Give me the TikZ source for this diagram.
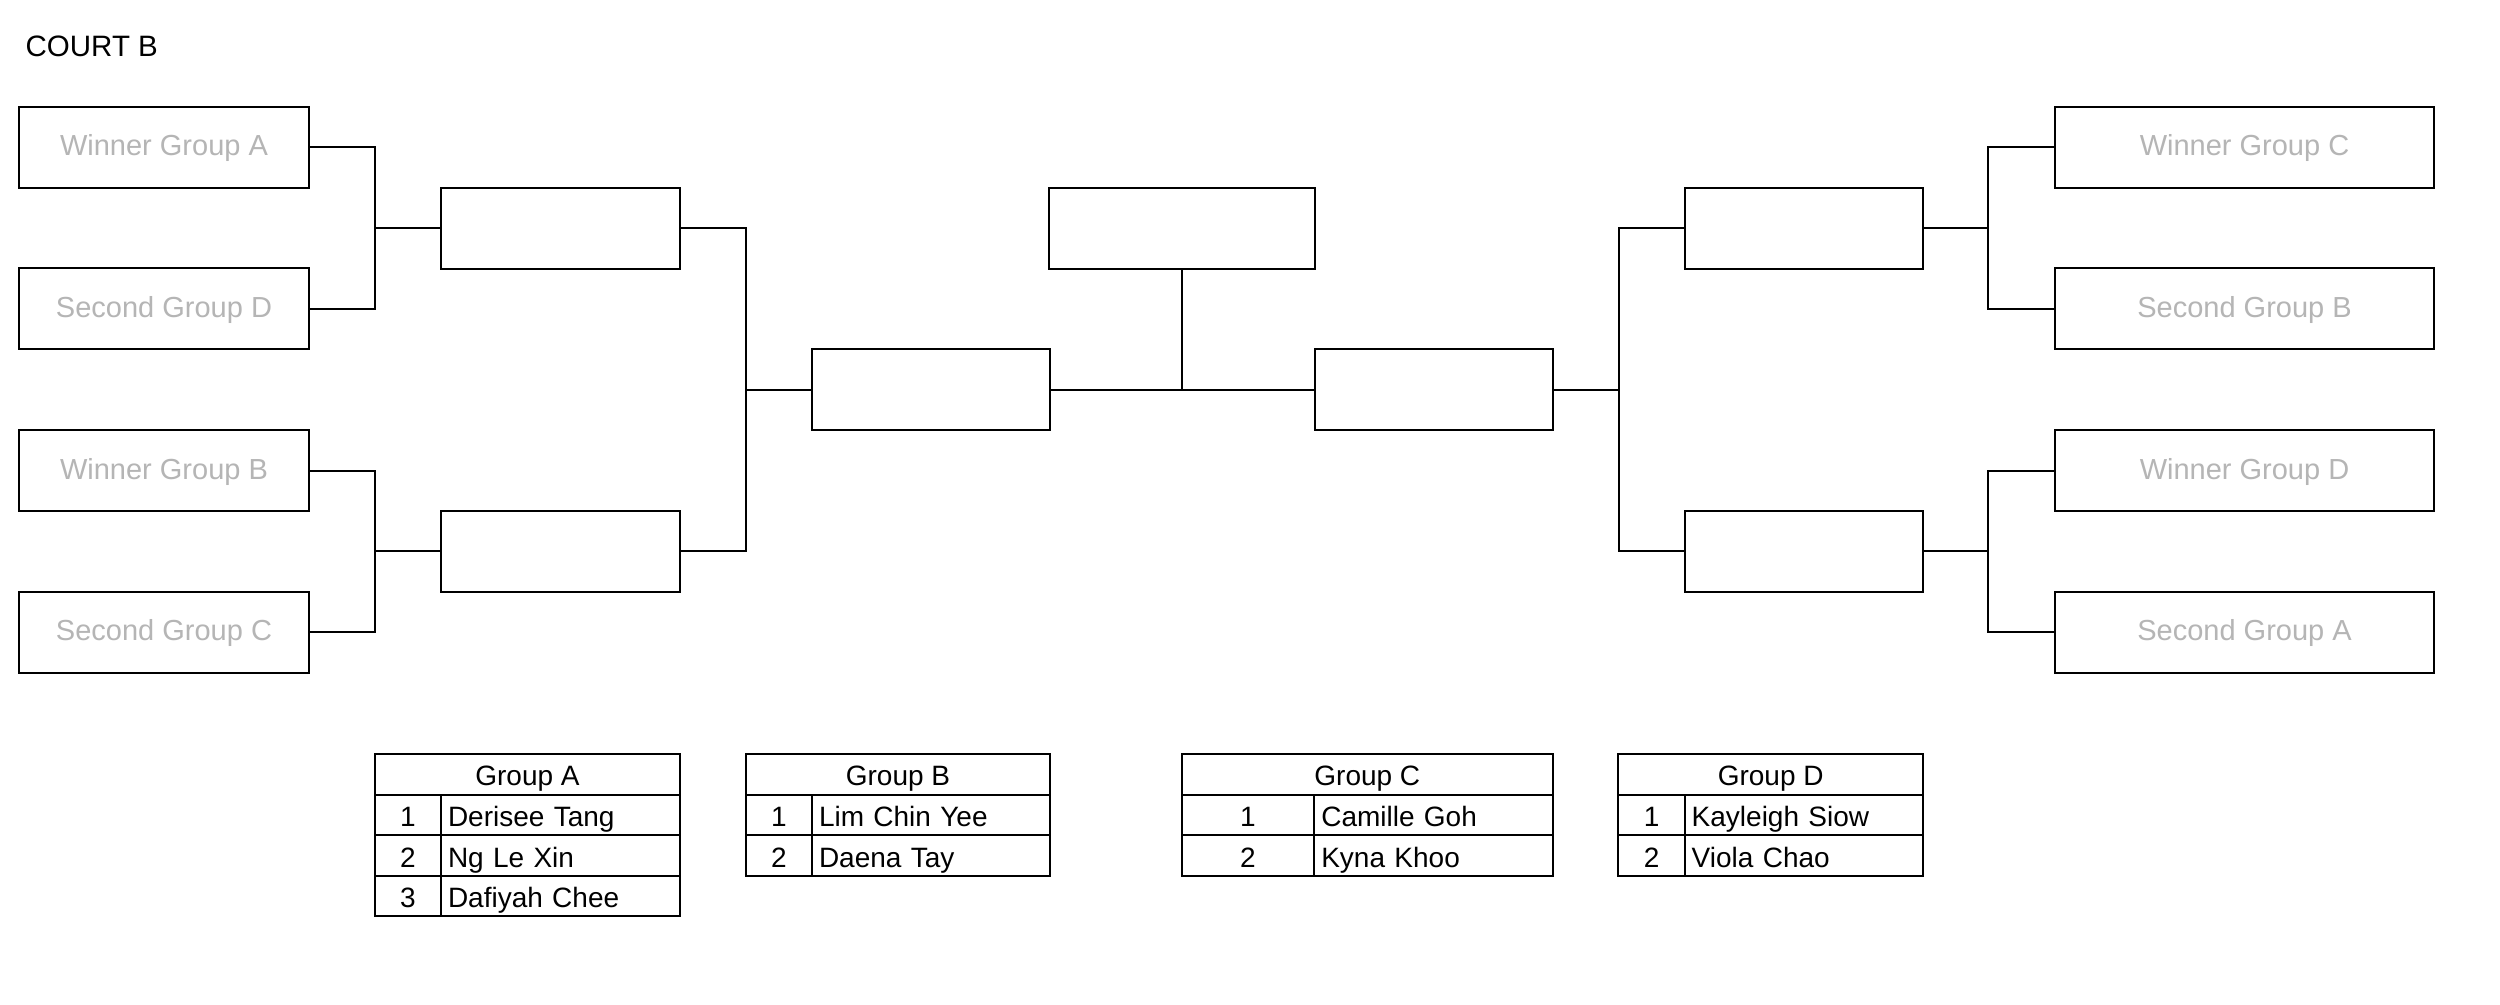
\documentclass[tikz,border=0pt]{standalone}
\usepackage{fontspec}
\setmainfont{Liberation Sans}
\definecolor{seedgray}{HTML}{B5B5B5}
\tikzset{
  box/.style={draw, line width=2pt, minimum height=80.9pt, inner sep=0pt, text height=17pt, text depth=0pt,
    text=seedgray, font=\fontsize{29}{34}\selectfont},
  conn/.style={line width=2pt},
  cell/.style={draw, line width=2pt, minimum height=40.6pt, inner sep=0pt, text height=23pt, text depth=0pt,
    font=\fontsize{28}{32}\selectfont},
  namecell/.style={cell, minimum width=239pt, text width=225pt, align=left, inner xsep=7pt}
}
\begin{document}
\begin{tikzpicture}[x=1pt,y=-1pt]
\useasboundingbox[fill=white] (0,0) rectangle (2500,1004);
\node[anchor=base west, font=\fontsize{29.5}{34}\selectfont, inner sep=0pt] (title) at (25.5,56.7) {COURT B};

% round 1 left
\node[box, minimum width=290pt] (wga) at (164,147.45) {Winner Group A};
\node[box, minimum width=290pt] (sgd) at (164,308.75) {Second Group D};
\node[box, minimum width=290pt] (wgb) at (164,470.55) {Winner Group B};
\node[box, minimum width=290pt] (sgc) at (164,632.35) {Second Group C};
% round 1 right
\node[box, minimum width=379pt] (wgc) at (2244.5,147.45) {Winner Group C};
\node[box, minimum width=379pt] (sgb) at (2244.5,308.75) {Second Group B};
\node[box, minimum width=379pt] (wgd) at (2244.5,470.55) {Winner Group D};
\node[box, minimum width=379pt] (sga) at (2244.5,632.35) {Second Group A};
% round 2
\node[box, minimum width=239pt] (r2a) at (560.5,228.1) {};
\node[box, minimum width=239pt] (r2b) at (560.5,551.45) {};
\node[box, minimum width=238pt] (r2c) at (1803.5,228.1) {};
\node[box, minimum width=238pt] (r2d) at (1803.5,551.45) {};
% semis and final
\node[box, minimum width=238pt] (sfl) at (930.5,389.65) {};
\node[box, minimum width=238pt] (sfr) at (1434,389.65) {};
\node[box, minimum width=266.4pt] (fin) at (1181.8,228.35) {};

% junctions
\coordinate (ja) at (375,228.1);
\coordinate (jb) at (375,551.45);
\coordinate (jc) at (746,389.65);
\coordinate (jg) at (1181.8,389.65);
\coordinate (jd) at (1618.5,389.65);
\coordinate (je) at (1988,228.1);
\coordinate (jf) at (1988,551.45);

\draw[conn] (wga.east) -| (ja) |- (sgd.east);
\draw[conn] (ja) -- (r2a.west);
\draw[conn] (wgb.east) -| (jb) |- (sgc.east);
\draw[conn] (jb) -- (r2b.west);
\draw[conn] (r2a.east) -| (jc) |- (r2b.east);
\draw[conn] (jc) -- (sfl.west);
\draw[conn] (sfl.east) -- (sfr.west);
\draw[conn] (fin.south) -- (jg);
\draw[conn] (sfr.east) -- (jd);
\draw[conn] (r2c.west) -| (jd) |- (r2d.west);
\draw[conn] (wgc.west) -| (je) |- (sgb.west);
\draw[conn] (je) -- (r2c.east);
\draw[conn] (wgd.west) -| (jf) |- (sga.west);
\draw[conn] (jf) -- (r2d.east);

% Group A table
\node[cell, minimum width=305pt] (ha) at (527.5,774.3) {Group A};
\node[cell, minimum width=66pt] (a1n) at (408,814.9) {1};
\node[namecell] (a1) at (560.5,814.9) {Derisee Tang};
\node[cell, minimum width=66pt] (a2n) at (408,855.5) {2};
\node[namecell] (a2) at (560.5,855.5) {Ng Le Xin};
\node[cell, minimum width=66pt] (a3n) at (408,896.1) {3};
\node[namecell] (a3) at (560.5,896.1) {Dafiyah Chee};
% Group B table
\node[cell, minimum width=304pt] (hb) at (898,774.3) {Group B};
\node[cell, minimum width=66pt] (b1n) at (779,814.9) {1};
\node[namecell, minimum width=238pt, text width=224pt] (b1) at (931,814.9) {Lim Chin Yee};
\node[cell, minimum width=66pt] (b2n) at (779,855.5) {2};
\node[namecell, minimum width=238pt, text width=224pt] (b2) at (931,855.5) {Daena Tay};
% Group C table
\node[cell, minimum width=371.4pt] (hc) at (1367.3,774.3) {Group C};
\node[cell, minimum width=132.7pt] (c1n) at (1248,814.9) {1};
\node[namecell, minimum width=238.7pt, text width=224.7pt] (c1) at (1433.65,814.9) {Camille Goh};
\node[cell, minimum width=132.7pt] (c2n) at (1248,855.5) {2};
\node[namecell, minimum width=238.7pt, text width=224.7pt] (c2) at (1433.65,855.5) {Kyna Khoo};
% Group D table
\node[cell, minimum width=304.6pt] (hd) at (1770.7,774.3) {Group D};
\node[cell, minimum width=66.3pt] (d1n) at (1651.55,814.9) {1};
\node[namecell, minimum width=238.3pt, text width=224.3pt] (d1) at (1803.85,814.9) {Kayleigh Siow};
\node[cell, minimum width=66.3pt] (d2n) at (1651.55,855.5) {2};
\node[namecell, minimum width=238.3pt, text width=224.3pt] (d2) at (1803.85,855.5) {Viola Chao};
\end{tikzpicture}
\end{document}
